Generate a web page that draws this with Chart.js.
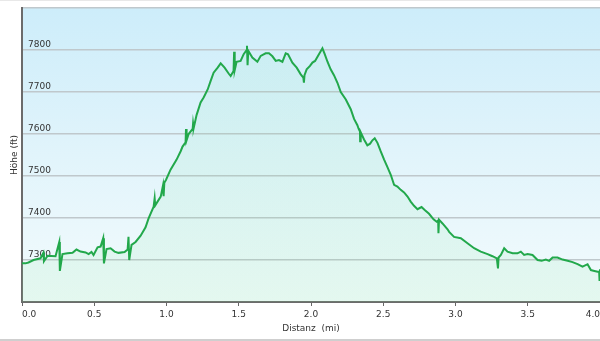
<!DOCTYPE html>
<html><head><meta charset="utf-8">
<script src="https://cdn.jsdelivr.net/npm/chart.js@4"></script>
<style>
html,body{margin:0;padding:0;background:#fff;}
#wrap{width:600px;height:338px;border-top:1px solid #e8e8e8;border-bottom:2px solid #cfcfcf;}
canvas{display:block;}
</style></head><body>
<div id="wrap"><canvas id="c" width="600" height="338"></canvas></div>
<script>
const distanceMi = [
0.000,0.024,0.045,0.080,0.128,0.148,0.152,0.177,0.232,0.258,
0.262,0.280,0.315,0.350,0.377,0.405,0.440,0.461,0.481,0.495,
0.523,0.544,0.562,0.567,0.585,0.613,0.641,0.668,0.710,0.731,
0.737,0.742,0.758,0.786,0.821,0.855,0.876,0.911,0.918,0.922,
0.960,0.976,0.980,0.985,0.997,1.028,1.070,1.098,1.111,1.132,
1.135,1.139,1.153,1.181,1.184,1.188,1.208,1.236,1.257,1.285,
1.305,1.326,1.354,1.375,1.402,1.430,1.444,1.464,1.468,1.472,
1.485,1.513,1.534,1.555,1.557,1.561,1.566,1.594,1.629,1.652,
1.686,1.709,1.733,1.756,1.778,1.802,1.825,1.841,1.871,1.901,
1.929,1.947,1.951,1.955,1.970,1.993,2.010,2.028,2.048,2.079,
2.095,2.114,2.136,2.159,2.183,2.206,2.241,2.275,2.298,2.321,
2.330,2.339,2.340,2.344,2.367,2.390,2.409,2.425,2.441,2.460,
2.482,2.506,2.529,2.552,2.575,2.598,2.621,2.644,2.668,2.690,
2.713,2.737,2.765,2.787,2.817,2.848,2.870,2.880,2.882,2.886,
2.910,2.945,2.956,2.990,3.037,3.083,3.129,3.175,3.222,3.256,
3.286,3.294,3.298,3.314,3.337,3.360,3.395,3.429,3.452,3.475,
3.499,3.533,3.568,3.596,3.625,3.648,3.672,3.706,3.741,3.776,
3.810,3.845,3.879,3.914,3.937,3.961,3.984,3.994,3.997,4.000];
const elevationFt = [
7292,7292,7294,7300,7304,7317,7297,7310,7309,7343,
7274,7314,7316,7317,7325,7320,7318,7314,7319,7312,
7330,7332,7352,7292,7326,7328,7320,7317,7319,7325,
7355,7300,7336,7343,7358,7378,7399,7427,7447,7430,
7451,7478,7452,7484,7491,7515,7539,7559,7570,7580,
7612,7585,7600,7612,7625,7614,7645,7675,7687,7706,
7726,7746,7758,7768,7758,7744,7738,7750,7796,7752,
7772,7774,7790,7800,7810,7764,7798,7782,7772,7786,
7792,7792,7785,7774,7776,7772,7792,7790,7770,7758,
7742,7734,7722,7740,7754,7762,7770,7774,7786,7804,
7790,7772,7754,7740,7722,7700,7682,7659,7636,7621,
7612,7606,7583,7604,7587,7573,7577,7585,7590,7579,
7559,7539,7521,7503,7479,7475,7467,7461,7451,7439,
7429,7421,7426,7419,7410,7397,7391,7394,7364,7396,
7387,7373,7367,7355,7352,7340,7328,7320,7314,7309,
7304,7280,7306,7312,7328,7320,7316,7316,7320,7312,
7314,7312,7300,7298,7301,7298,7306,7306,7301,7298,
7295,7290,7284,7290,7276,7274,7272,7272,7250,7278];
const xTickValues = [0,0.5,1,1.5,2,2.5,3,3.5,4];
const yGridValues = [7200,7300,7400,7500,7600,7700,7800,7900];
const yLabelValues = [7300,7400,7500,7600,7700,7800];
const xTitle = 'Distanz  (mi)';
const yTitle = 'Höhe (ft)';

const FONT = {family:'"DejaVu Sans", Verdana, sans-serif', size:9};
const TEXT = '#333333';

const plotBg = {
  id:'plotBg',
  beforeDraw(chart){
    const {ctx, chartArea:a} = chart;
    if(!a) return;
    const g = ctx.createLinearGradient(0,a.top,0,a.bottom);
    g.addColorStop(0,'#cdedfa');
    g.addColorStop(0.5,'#e1f4fb');
    g.addColorStop(1,'#f3fbfd');
    ctx.save();
    ctx.fillStyle = g;
    ctx.fillRect(a.left,a.top,a.right-a.left,a.bottom-a.top);
    ctx.restore();
  }
};

new Chart(document.getElementById('c'), {
  type:'line',
  data:{
    datasets:[{
      data: distanceMi.map((d,i)=>({x:d,y:elevationFt[i]})),
      borderColor:'#22a84b',
      borderWidth:2,
      pointRadius:0,
      tension:0,
      fill:'start',
      backgroundColor:(ctx)=>{
        const a = ctx.chart.chartArea;
        if(!a) return 'rgba(90,215,130,0.08)';
        const g = ctx.chart.ctx.createLinearGradient(0,a.top,0,a.bottom);
        g.addColorStop(0,'rgba(90,220,150,0.06)');
        g.addColorStop(1,'rgba(120,225,140,0.12)');
        return g;
      }
    }]
  },
  options:{
    responsive:false,
    animation:false,
    devicePixelRatio:1,
    layout:{padding:{top:7,left:0,right:0,bottom:0}},
    plugins:{legend:{display:false},tooltip:{enabled:false}},
    scales:{
      x:{
        type:'linear',
        min:0,max:4,
        afterBuildTicks:(s)=>{s.ticks = xTickValues.map(v=>({value:v}));},
        afterFit:(s)=>{s.height = 37; s.paddingLeft = 0; s.paddingRight = 0;},
        ticks:{
          align:'inner',
          font:FONT,color:TEXT,padding:3,maxRotation:0,autoSkip:false,
          callback:(v)=>Number(v).toFixed(1)
        },
        grid:{drawOnChartArea:false,drawTicks:true,tickLength:4,tickColor:'#666',tickWidth:1},
        border:{color:'#6b6b6b',width:2},
        title:{display:true,text:xTitle,font:FONT,color:TEXT,padding:{top:4,bottom:5}}
      },
      y:{
        min:7200,max:7900,
        afterBuildTicks:(s)=>{s.ticks = yGridValues.map(v=>({value:v}));},
        afterFit:(s)=>{s.width = 22; s.paddingTop = 0; s.paddingBottom = 0;},
        ticks:{
          mirror:true,padding:6,labelOffset:-5,
          font:FONT,color:TEXT,
          callback:(v)=>yLabelValues.includes(v)?String(v):''
        },
        grid:{drawTicks:false,color:'#bfc8cc',lineWidth:1.5},
        border:{color:'#6b6b6b',width:2},
        title:{display:true,text:yTitle,font:FONT,color:TEXT,padding:{top:9,bottom:2}}
      }
    }
  },
  plugins:[plotBg]
});
</script>
</body></html>
